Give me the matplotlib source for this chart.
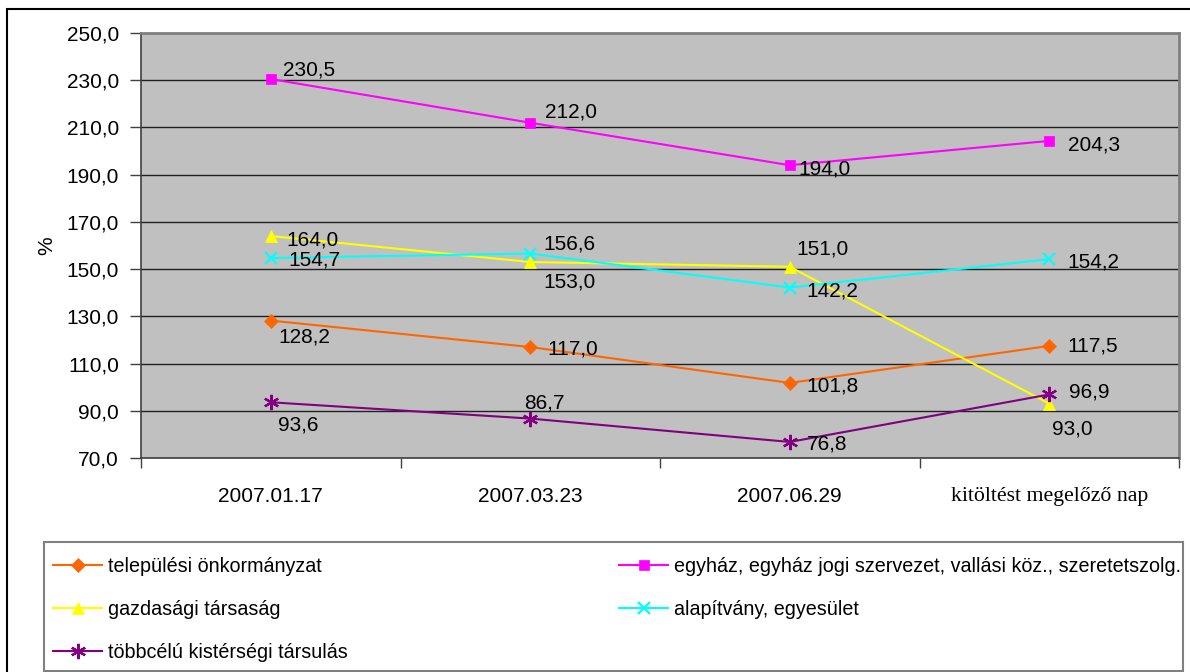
import matplotlib
matplotlib.use("Agg")
import matplotlib.pyplot as plt
from matplotlib.patches import Rectangle
from matplotlib.ticker import FixedLocator

plt.rcParams['font.family'] = ['Liberation Sans', 'DejaVu Sans']

dates = ["2007.01.17", "2007.03.23", "2007.06.29", "kitöltést megelőző nap"]

telepulesi = [128.2, 117.0, 101.8, 117.5]
egyhaz = [230.5, 212.0, 194.0, 204.3]
gazdasagi = [164.0, 153.0, 151.0, 93.0]
alapitvany = [154.7, 156.6, 142.2, 154.2]
tobbcelu = [93.6, 86.7, 76.8, 96.9]

names = ["települési önkormányzat",
         "egyház, egyház jogi szervezet, vallási köz., szeretetszolg.",
         "gazdasági társaság",
         "alapítvány, egyesület",
         "többcélú kistérségi társulás"]

y_ticks = [70, 90, 110, 130, 150, 170, 190, 210, 230, 250]

# label offsets in pixels (dx, dy) from each point
offs = {
    "tel": [(8, -16), (17, -2), (17, -3), (18, 0)],
    "egy": [(12, 9), (15, 11), (9, -4), (19, -4)],
    "gaz": [(16, -4), (13, -20), (7, 18), (3, -25)],
    "ala": [(18, -2), (13, 10), (17, -3), (18, -3)],
    "tob": [(7, -23), (-6, 16), (17, -2), (20, 2)],
}

W, H = 1190, 672
fig = plt.figure(figsize=(W / 100, H / 100), dpi=100)
ax = fig.add_axes([141/W, (H-458)/H, (1179-141)/W, (458-33)/H])
ax.set_facecolor('#C0C0C0')

x = list(range(len(dates)))
series = [
    ("tel", telepulesi, '#FF6600', 'D', 7),
    ("egy", egyhaz, '#FF00FF', 's', 7),
    ("gaz", gazdasagi, '#FFFF00', '^', 9),
    ("ala", alapitvany, '#00FFFF', 'x', 9),
    ("tob", tobbcelu, '#800080', (6, 2, 0), 11),
]
handles = {}
for i, (key, vals, col, mk, ms) in enumerate(series):
    ln, = ax.plot(x, vals, color=col, lw=1.5, marker=mk, markersize=ms,
                  markeredgewidth=1.6 if mk in ('x', (6, 2, 0)) else 0.5,
                  markerfacecolor=col, markeredgecolor=col, label=names[i], zorder=3,
                  clip_on=False)
    handles[key] = ln
    for j, v in enumerate(vals):
        dx, dy = offs[key][j]
        ax.annotate(f"{v:.1f}".replace('.', ','), (j, v), xytext=(dx, dy),
                    textcoords='offset pixels', ha='left', va='center',
                    fontsize=15, color='black', zorder=4)

ax.set_xlim(-0.5, len(dates) - 0.5)
ax.set_ylim(70, 250)
ax.set_yticks(y_ticks)
ax.set_yticklabels([f"{v:.1f}".replace('.', ',') for v in y_ticks], fontsize=15)
ax.yaxis.grid(True, color='#202020', lw=1.0)
ax.set_axisbelow(True)
ax.tick_params(axis='y', length=8, width=1, color='#404040', pad=8)

ax.set_xticks(x)
ax.set_xticklabels(dates, fontsize=15)
ax.xaxis.set_minor_locator(FixedLocator([-0.5, 0.5, 1.5, 2.5, 3.5]))
ax.tick_params(axis='x', which='major', length=0, pad=21)
ax.tick_params(axis='x', which='minor', length=7, width=1, color='#404040')
last = ax.get_xticklabels()[-1]
last.set_family(['Liberation Serif', 'DejaVu Serif'])
last.set_fontsize(15.7)

ax.set_ylabel('%', fontsize=15, labelpad=7)

for s in ('top', 'right'):
    ax.spines[s].set_color('#808080')
    ax.spines[s].set_linewidth(2)
for s in ('left', 'bottom'):
    ax.spines[s].set_color('#404040')
    ax.spines[s].set_linewidth(1.2)

# legend: two columns inside a plain frame below the plot
order = ["tel", "gaz", "tob", "egy", "ala"]
fig.legend([handles[k] for k in order], [handles[k].get_label() for k in order],
           ncol=2, mode='expand', loc='upper left',
           bbox_to_anchor=(53/W, (H-557)/H, (1181-53)/W, 0),
           fontsize=14.2, frameon=False,
           handlelength=2.49, handletextpad=0.3, labelspacing=1.22,
           borderaxespad=0, borderpad=0)
fig.patches.append(Rectangle((44/W, (H-671)/H), (1183-44)/W, (671-542)/H,
                             transform=fig.transFigure, fill=False,
                             edgecolor='#808080', lw=1.5))

# outer chart border
fig.patches.append(Rectangle((7/W, -0.1), 2, (H-9)/H + 0.1,
                             transform=fig.transFigure, fill=False,
                             edgecolor='black', lw=1.5))

fig.savefig('out.png', dpi=100)
